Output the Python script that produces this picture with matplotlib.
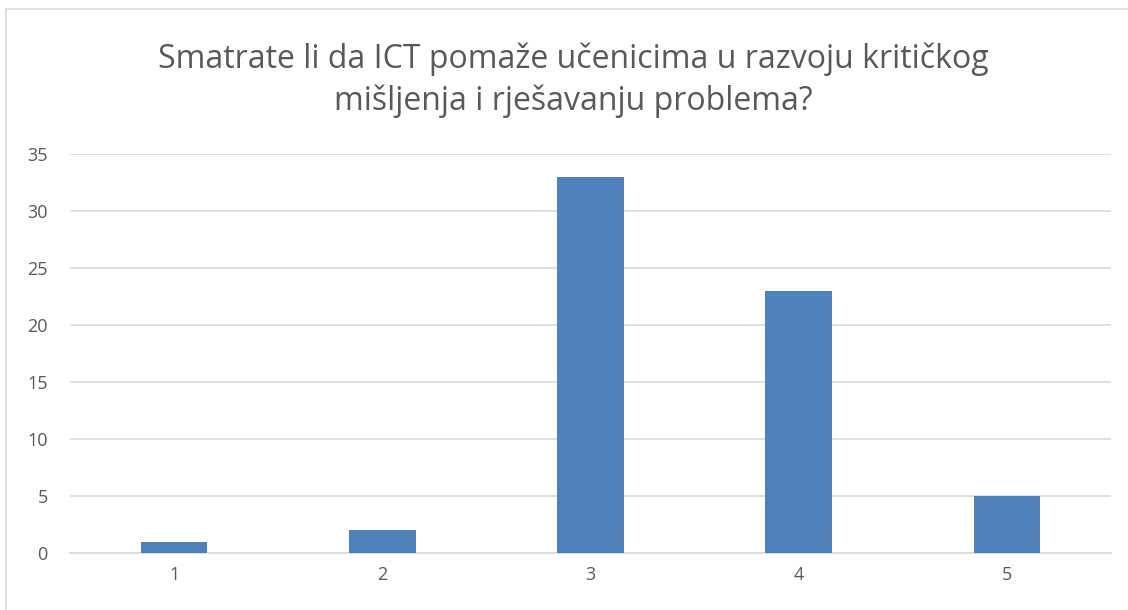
import matplotlib
matplotlib.use("Agg")
import matplotlib.pyplot as plt
from matplotlib.patches import Rectangle

categories = ["1", "2", "3", "4", "5"]
values = [1, 2, 33, 23, 5]
yticks = [0, 5, 10, 15, 20, 25, 30, 35]
title = "Smatrate li da ICT pomaže učenicima u razvoju kritičkog\nmišljenja i rješavanju problema?"

W, H = 1128, 610
fig = plt.figure(figsize=(W / 100, H / 100), dpi=100)
fig.patch.set_facecolor("white")

# chart border (only left/top visible)
fig.patches.append(Rectangle((6 / W, -0.1), 1.2, (H - 9) / H + 0.1, transform=fig.transFigure,
                             fill=False, edgecolor="#d9d9d9", linewidth=1.2))

ax = fig.add_axes([70 / W, 57 / H, (1111 - 70) / W, (553 - 154) / H])
x = list(range(len(categories)))
ax.bar(x, values, width=0.32, color="#4f81bd", zorder=3)
ax.set_xlim(-0.5, len(categories) - 0.5)
ax.set_ylim(0, 35)
ax.set_yticks(yticks)
ax.set_xticks(x)
ax.set_xticklabels(categories)
ax.grid(axis="y", color="#d9d9d9", linewidth=1.2, zorder=0)
for s in ["top", "right", "left"]:
    ax.spines[s].set_visible(False)
ax.spines["bottom"].set_color("#d9d9d9")
ax.spines["bottom"].set_linewidth(1.2)
ax.tick_params(axis="both", length=0, labelsize=13, labelcolor="#595959")
ax.tick_params(axis="y", pad=16)
ax.tick_params(axis="x", pad=9)
for lab in ax.get_xticklabels() + ax.get_yticklabels():
    lab.set_family("Open Sans")

fig.text(573 / W, 1 - 80 / H, title, ha="center", va="center", fontsize=23,
         color="#595959", family="Open Sans", linespacing=1.32)

fig.savefig("out.png", dpi=100)
